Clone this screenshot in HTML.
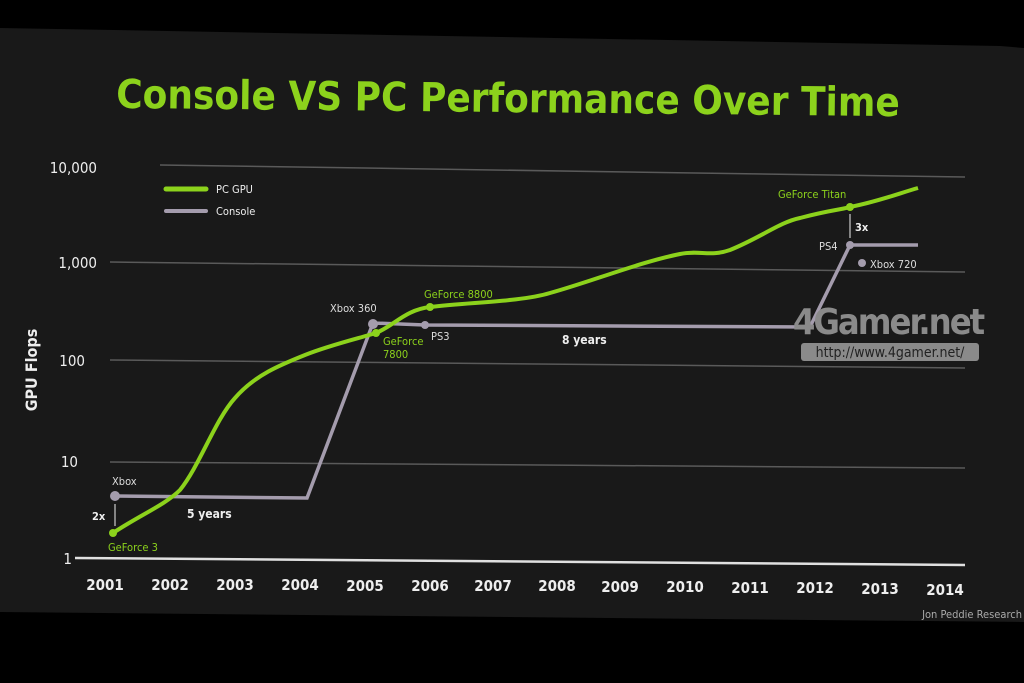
<!DOCTYPE html>
<html><head><meta charset="utf-8"><style>
html,body{margin:0;padding:0;background:#000;}
svg{display:block}
text{font-family:"DejaVu Sans Condensed","DejaVu Sans","Liberation Sans",sans-serif;}
</style></head><body>
<svg width="1024" height="683" viewBox="0 0 1024 683">
<rect width="1024" height="683" fill="#000"/>
<polygon points="0,28 1000,46 1024,48 1024,622 0,612" fill="#191919"/>
<text x="508" y="112" text-anchor="middle" fill="#8cd21c" font-size="40" font-weight="bold" transform="rotate(0.6 508 100)">Console VS PC Performance Over Time</text>
<!-- grid -->
<g stroke="#5a5a5a" stroke-width="1.5">
<line x1="160" y1="165" x2="965" y2="177"/>
<line x1="110" y1="262" x2="965" y2="272"/>
<line x1="110" y1="360" x2="965" y2="368"/>
<line x1="110" y1="462" x2="965" y2="468"/>
</g>
<line x1="75" y1="558" x2="965" y2="565" stroke="#e0e0e0" stroke-width="2.5"/>
<g fill="#eee" font-size="15" text-anchor="end">
<text x="97" y="173">10,000</text>
<text x="97" y="268">1,000</text>
<text x="85" y="366">100</text>
<text x="78" y="467">10</text>
<text x="72" y="564">1</text>
</g>
<text x="37" y="370" fill="#eee" font-size="16" font-weight="bold" transform="rotate(-90 37 370)" text-anchor="middle">GPU Flops</text>
<g fill="#eee" font-size="15" font-weight="bold" text-anchor="middle">
<text x="105" y="590">2001</text><text x="170" y="590">2002</text><text x="235" y="590">2003</text>
<text x="300" y="590">2004</text><text x="365" y="591">2005</text><text x="430" y="591">2006</text>
<text x="493" y="591">2007</text><text x="557" y="591">2008</text><text x="620" y="592">2009</text>
<text x="685" y="592">2010</text><text x="750" y="593">2011</text><text x="815" y="593">2012</text>
<text x="880" y="594">2013</text><text x="945" y="595">2014</text>
</g>
<text x="1022" y="618" fill="#aaa" font-size="11" text-anchor="end">Jon Peddie Research</text>
<!-- legend -->
<line x1="166" y1="189" x2="206" y2="189" stroke="#8cd21c" stroke-width="5" stroke-linecap="round"/>
<text x="216" y="193" fill="#eee" font-size="11">PC GPU</text>
<line x1="166" y1="211" x2="206" y2="211" stroke="#a49cad" stroke-width="4" stroke-linecap="round"/>
<text x="216" y="215" fill="#eee" font-size="11">Console</text>
<!-- console -->
<polyline points="115,496 307,498 373,323 425,325 810,327 850,245 918,245" fill="none" stroke="#a49cad" stroke-width="3.5"/>
<!-- pc -->
<path d="M113,533 C140,515 165,505 180,490 C200,465 215,420 235,398 C255,375 280,365 305,355 C330,345 360,338 376,333 C395,325 405,310 430,307 C470,302 520,302 550,293 C590,282 640,262 680,254 C700,250 710,257 730,250 C760,238 780,222 800,218 C830,210 845,209 850,207 C880,201 900,193 918,188" fill="none" stroke="#8cd21c" stroke-width="4"/>
<g fill="#8cd21c"><circle cx="113" cy="533" r="4"/><circle cx="376" cy="333" r="4"/><circle cx="430" cy="307" r="4"/><circle cx="850" cy="207" r="4"/></g>
<g fill="#a49cad"><circle cx="115" cy="496" r="5"/><circle cx="373" cy="324" r="5"/><circle cx="425" cy="325" r="4"/><circle cx="850" cy="245" r="4"/><circle cx="862" cy="263" r="4"/></g>
<g font-size="11">
<text x="112" y="485" fill="#ddd">Xbox</text>
<text x="92" y="520" fill="#eee" font-weight="bold">2x</text>
<text x="108" y="551" fill="#8cd21c">GeForce 3</text>
<text x="187" y="518" fill="#eee" font-weight="bold" font-size="12">5 years</text>
<text x="330" y="312" fill="#ddd">Xbox 360</text>
<text x="383" y="345" fill="#8cd21c">GeForce</text>
<text x="383" y="358" fill="#8cd21c">7800</text>
<text x="431" y="340" fill="#ddd">PS3</text>
<text x="424" y="298" fill="#8cd21c">GeForce 8800</text>
<text x="562" y="344" fill="#eee" font-weight="bold" font-size="12">8 years</text>
<text x="778" y="198" fill="#8cd21c">GeForce Titan</text>
<text x="855" y="231" fill="#eee" font-weight="bold">3x</text>
<text x="819" y="250" fill="#ddd">PS4</text>
<text x="870" y="268" fill="#ddd">Xbox 720</text>
</g>
<line x1="115" y1="526" x2="115" y2="504" stroke="#eee" stroke-width="1"/>
<line x1="850" y1="238" x2="850" y2="214" stroke="#eee" stroke-width="1"/>
<!-- watermark -->
<text x="888" y="334" fill="#8a8a8a" font-size="36" font-family="Liberation Sans" font-weight="bold" text-anchor="middle" letter-spacing="-2">4Gamer.net</text>
<rect x="801" y="343" width="178" height="18" rx="3" fill="#8a8a8a"/>
<text x="890" y="357" fill="#222" font-size="14" font-family="Liberation Sans" text-anchor="middle">http://www.4gamer.net/</text>
</svg>
</body></html>
